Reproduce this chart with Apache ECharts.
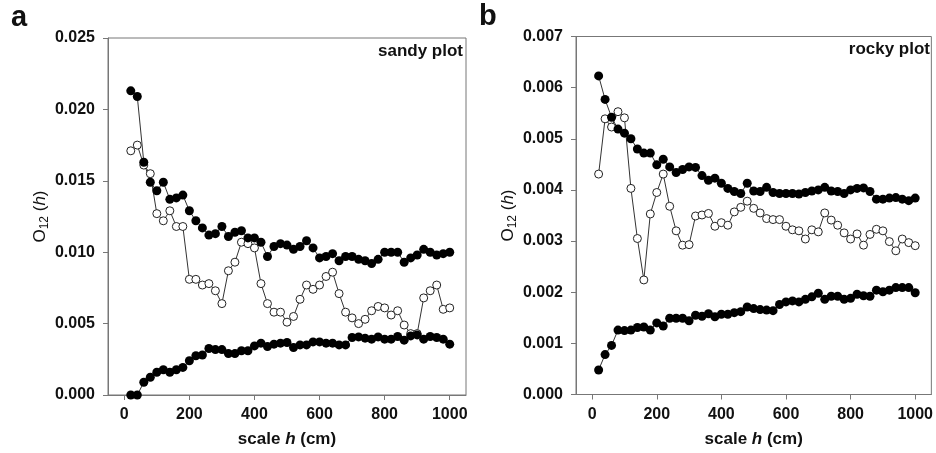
<!DOCTYPE html>
<html>
<head>
<meta charset="utf-8">
<script src="https://cdn.jsdelivr.net/npm/echarts@6/dist/echarts.min.js"></script>
<style>
  html, body { margin: 0; background: #fff; }
  #chart { width: 936px; height: 453px; }
</style>
</head>
<body>
<div id="chart"></div>
<script>
// scale h (cm), one point every 20 cm
const scaleH = [20, 40, 60, 80, 100, 120, 140, 160, 180, 200,
  220, 240, 260, 280, 300, 320, 340, 360, 380, 400,
  420, 440, 460, 480, 500, 520, 540, 560, 580, 600,
  620, 640, 660, 680, 700, 720, 740, 760, 780, 800,
  820, 840, 860, 880, 900, 920, 940, 960, 980, 1000];

const xTicks = [0, 200, 400, 600, 800, 1000];

// panel a - sandy plot
const sandyUpper = [0.0213, 0.0209, 0.0163, 0.0149, 0.0143, 0.0149, 0.0137, 0.0138, 0.0140, 0.0129,
  0.0122, 0.0117, 0.0112, 0.0113, 0.0118, 0.0111, 0.0114, 0.0115, 0.0110, 0.0110,
  0.0107, 0.0097, 0.0104, 0.0106, 0.0105, 0.0102, 0.0104, 0.0108, 0.0103, 0.0096,
  0.0097, 0.0099, 0.0094, 0.0097, 0.0097, 0.0095, 0.0094, 0.0092, 0.0095, 0.0100,
  0.0100, 0.0100, 0.0093, 0.0096, 0.0098, 0.0102, 0.0100, 0.0098, 0.0099, 0.0100];
const sandyOpen = [0.0171, 0.0175, 0.0161, 0.0155, 0.0127, 0.0122, 0.0129, 0.0118, 0.0118, 0.0081,
  0.0081, 0.0077, 0.0078, 0.0073, 0.0064, 0.0087, 0.0093, 0.0107, 0.0106, 0.0103,
  0.0078, 0.0064, 0.0058, 0.0058, 0.0051, 0.0055, 0.0067, 0.0077, 0.0074, 0.0077,
  0.0083, 0.0086, 0.0071, 0.0058, 0.0054, 0.0050, 0.0053, 0.0059, 0.0062, 0.0061,
  0.0056, 0.0059, 0.0049, 0.0043, 0.0043, 0.0068, 0.0073, 0.0077, 0.0060, 0.0061];
const sandyLower = [0.0000, 0.0000, 0.00089, 0.00124, 0.00159, 0.00177, 0.00159, 0.00177, 0.00193, 0.0024,
  0.00275, 0.0028, 0.00326, 0.00318, 0.00318, 0.00291, 0.0029, 0.0031, 0.0031, 0.00344,
  0.00363, 0.0034, 0.00356, 0.00363, 0.00368, 0.00333, 0.00351, 0.00351, 0.00372, 0.00372,
  0.00363, 0.00363, 0.00351, 0.00351, 0.00403, 0.00407, 0.00398, 0.00391, 0.00407, 0.00391,
  0.00391, 0.0041, 0.00384, 0.00414, 0.00421, 0.00391, 0.0041, 0.00403, 0.00391, 0.00356];

// panel b - rocky plot
const rockyUpper = [0.00623, 0.00577, 0.00542, 0.00519, 0.00511, 0.00500, 0.00480, 0.00472, 0.00472, 0.00449,
  0.00460, 0.00445, 0.00434, 0.00440, 0.00445, 0.00444, 0.00428, 0.00419, 0.00423, 0.00413,
  0.00403, 0.00397, 0.00393, 0.00413, 0.00398, 0.00397, 0.00405, 0.00395, 0.00393, 0.00393,
  0.00393, 0.00392, 0.00395, 0.00398, 0.00400, 0.00405, 0.00398, 0.00397, 0.00393, 0.00400,
  0.00403, 0.00404, 0.00397, 0.00382, 0.00382, 0.00384, 0.00385, 0.00382, 0.00379, 0.00384];
const rockyOpen = [0.00431, 0.00539, 0.00523, 0.00553, 0.00541, 0.00403, 0.00305, 0.00224, 0.00353, 0.00395,
  0.00431, 0.00368, 0.00320, 0.00292, 0.00293, 0.00349, 0.00351, 0.00354, 0.00329, 0.00336,
  0.00331, 0.00357, 0.00366, 0.00378, 0.00364, 0.00355, 0.00344, 0.00342, 0.00342, 0.00329,
  0.00322, 0.00320, 0.00304, 0.00322, 0.00318, 0.00355, 0.00341, 0.00331, 0.00316, 0.00304,
  0.00314, 0.00292, 0.00313, 0.00323, 0.00320, 0.00299, 0.00281, 0.00304, 0.00297, 0.00291];
const rockyLower = [0.00048, 0.00078, 0.00096, 0.00126, 0.00125, 0.00126, 0.00131, 0.00132, 0.00126, 0.00140,
  0.00134, 0.00149, 0.00149, 0.00149, 0.00144, 0.00155, 0.00153, 0.00158, 0.00152, 0.00157,
  0.00157, 0.00160, 0.00162, 0.00171, 0.00168, 0.00166, 0.00165, 0.00164, 0.00176, 0.00181,
  0.00183, 0.00181, 0.00186, 0.00191, 0.00198, 0.00186, 0.00192, 0.00192, 0.00186, 0.00188,
  0.00196, 0.00193, 0.00192, 0.00204, 0.00201, 0.00204, 0.00209, 0.00209, 0.00209, 0.00199];

const FONT = 'Liberation Sans';
const AXIS_GRAY = '#777';
const TEXT = '#111';

function pairs(vals) {
  return scaleH.map((h, i) => [h, vals[i]]);
}

function xAxisFor(gridIndex) {
  return {
    type: 'value', gridIndex, min: -50, max: 1050,
    axisLine: { show: true, onZero: false, lineStyle: { color: AXIS_GRAY, width: 1 } },
    axisTick: { show: true, length: 5, customValues: xTicks, lineStyle: { color: AXIS_GRAY } },
    axisLabel: {
      customValues: xTicks, margin: 12, color: TEXT,
      fontFamily: FONT, fontWeight: 'bold', fontSize: 16,
      formatter: v => String(v)
    },
    splitLine: { show: false },
    name: '{b|scale }{bi|h}{b| (cm)}',
    nameLocation: 'middle', nameGap: 36,
    nameTextStyle: {
      rich: {
        b: { fontFamily: FONT, fontWeight: 'bold', fontSize: 17, color: TEXT },
        bi: { fontFamily: FONT, fontWeight: 'bold', fontStyle: 'italic', fontSize: 17, color: TEXT }
      }
    }
  };
}

function yAxisFor(gridIndex, max, interval, nameGap) {
  return {
    type: 'value', gridIndex, min: 0, max, interval,
    axisLine: { show: true, onZero: false, lineStyle: { color: AXIS_GRAY, width: 1 } },
    axisTick: { show: true, length: 5, lineStyle: { color: AXIS_GRAY } },
    axisLabel: {
      margin: 13, color: TEXT, fontFamily: FONT, fontWeight: 'bold', fontSize: 16,
      formatter: v => v.toFixed(3)
    },
    splitLine: { show: false },
    name: '{o|O}{s|12}{o| (}{i|h}{o|)}',
    nameLocation: 'middle', nameGap, nameRotate: 90,
    nameTextStyle: {
      rich: {
        o: { fontFamily: FONT, fontSize: 17, color: TEXT, lineHeight: 22 },
        s: { fontFamily: FONT, fontSize: 12, color: TEXT, lineHeight: 11, verticalAlign: 'bottom' },
        i: { fontFamily: FONT, fontSize: 17, fontStyle: 'italic', color: TEXT, lineHeight: 22 }
      }
    }
  };
}

function filled(name, vals, idx) {
  return {
    name, type: 'line', xAxisIndex: idx, yAxisIndex: idx,
    data: pairs(vals), symbol: 'circle', symbolSize: 9,
    lineStyle: { color: '#333', width: 1 },
    itemStyle: { color: '#000', borderColor: '#000', borderWidth: 0 }
  };
}

function hollow(name, vals, idx) {
  return {
    name, type: 'line', xAxisIndex: idx, yAxisIndex: idx,
    data: pairs(vals), symbol: 'circle', symbolSize: 8,
    lineStyle: { color: '#333', width: 1 },
    itemStyle: { color: '#fff', borderColor: '#222', borderWidth: 1 }
  };
}

const chart = echarts.init(document.getElementById('chart'), null, { renderer: 'canvas' });

chart.setOption({
  animation: false,
  backgroundColor: '#fff',
  grid: [
    { left: 108, top: 38, width: 358, height: 358, show: true, borderColor: AXIS_GRAY, borderWidth: 1 },
    { left: 576, top: 36.5, width: 358, height: 358, show: true, borderColor: AXIS_GRAY, borderWidth: 1 }
  ],
  xAxis: [xAxisFor(0), xAxisFor(1)],
  yAxis: [yAxisFor(0, 0.025, 0.005, 57), yAxisFor(1, 0.007, 0.001, 55)],
  graphic: [
    { type: 'text', x: 11, y: 3, style: { text: 'a', font: 'bold 29px "Liberation Sans"', fill: TEXT, verticalAlign: 'top' } },
    { type: 'text', x: 479, y: 2, style: { text: 'b', font: 'bold 29px "Liberation Sans"', fill: TEXT, verticalAlign: 'top' } },
    { type: 'text', x: 463, y: 43, style: { text: 'sandy plot', font: 'bold 17px "Liberation Sans"', fill: TEXT, align: 'right', verticalAlign: 'top' } },
    { type: 'text', x: 930, y: 41, style: { text: 'rocky plot', font: 'bold 17px "Liberation Sans"', fill: TEXT, align: 'right', verticalAlign: 'top' } }
  ],
  series: [
    hollow('sandy open', sandyOpen, 0),
    filled('sandy upper', sandyUpper, 0),
    filled('sandy lower', sandyLower, 0),
    hollow('rocky open', rockyOpen, 1),
    filled('rocky upper', rockyUpper, 1),
    filled('rocky lower', rockyLower, 1)
  ]
});

window.addEventListener('resize', () => chart.resize());
</script>
</body>
</html>
